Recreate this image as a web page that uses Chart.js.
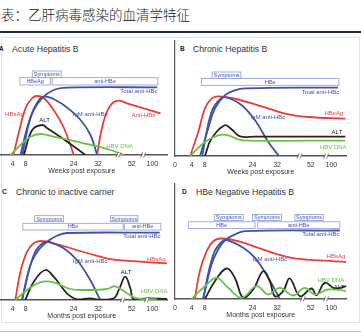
<!DOCTYPE html>
<html>
<head>
<meta charset="utf-8">
<script src="https://cdn.jsdelivr.net/npm/chart.js@4.4.1/dist/chart.umd.min.js"></script>
<style>
  body { margin: 0; width: 361px; height: 332px; position: relative; overflow: hidden; background: #fff;
         font-family: "Liberation Sans", Arial, sans-serif; }
  canvas { position: absolute; }
  .rule  { position: absolute; left: 0; width: 361px; }
  .frame { position: absolute; left: 1px; top: 37px; width: 357px; height: 284px; border: 1px solid #e2e2e2; }
  .lt    { position: absolute; font-size: 6.5px; font-weight: bold; color: #222; line-height: 1; }
  .cap   { position: absolute; font-size: 8.7px; color: #333; white-space: nowrap; line-height: 1; }
  .head  { position: absolute; left: 1px; top: 8px; font-family: "Noto Sans CJK SC", sans-serif; font-weight: 300;
           font-size: 13.5px; color: #222; line-height: 1; white-space: nowrap; }
</style>
</head>
<body>
<div class="head">表：乙肝病毒感染的血清学特征</div>
<div class="rule" style="top:31px;height:1.5px;background:#1c2a3a"></div>
<div class="frame"></div>
<div class="rule" style="top:331px;height:1px;background:#bdbdbd"></div>

<span class="lt" style="left:-1px;top:46px">A</span><span class="cap" style="left:12px;top:45px">Acute Hepatitis B</span>
<span class="lt" style="left:180px;top:46px">B</span><span class="cap" style="left:193px;top:45px">Chronic Hepatitis B</span>
<span class="lt" style="left:2px;top:189px">C</span><span class="cap" style="left:16px;top:188px">Chronic to inactive carrier</span>
<span class="lt" style="left:182px;top:189px">D</span><span class="cap" style="left:196px;top:188px">HBe Negative Hepatitis B</span>

<canvas id="cA" width="196" height="142" style="left:-16px;top:35px"></canvas>
<canvas id="cB" width="196" height="142" style="left:163px;top:36px"></canvas>
<canvas id="cC" width="196" height="142" style="left:-16px;top:180px"></canvas>
<canvas id="cD" width="196" height="142" style="left:163px;top:179px"></canvas>

<script>
// x positions are on a broken time axis: 0..32 roughly linear, then 52 and 100 squeezed in
const tickPos    = [0, 5.5, 9.8, 25.7, 33.8, 45, 51.8];
const tickLabels = ['0', '4', '8', '24', '32', '52', '100'];

// A - acute hepatitis B  ([x, level])
const acuteHBsAg   = [[5.8,0],[7.6,23],[9.8,47],[12,57],[13.6,59],[15.8,57],[19.1,45],[22.5,27],[25.8,0]];
const acuteTotal   = [[8.1,0],[10.3,27],[12.5,45],[15.3,57],[19.1,65],[23.6,67.3],[53.4,67.7]];
const acuteIgM     = [[8.7,0],[11.4,37],[14.2,55],[16.4,58.3],[19.7,55],[23.6,47.3],[28,35],[31.3,20],[33.5,0]];
const acuteALT     = [[9.2,0],[12,25],[15.3,30],[17,26.7],[23.6,13.3],[29.6,0]];
const acuteDNA     = [[4.8,0],[8.1,10],[11.4,18.3],[14.7,21],[19.1,18.3],[29.1,11.7],[37.9,5],[42.3,0]];
const acuteAntiHBs = [[33.5,0],[34.6,20],[36.3,40],[38.5,51.7],[40.7,54.3],[43.4,51.7],[54.5,41.7]];

// B - chronic hepatitis B
const chronicHBsAg = [[5,0],[7.7,24],[9.9,47.4],[12.1,57.4],[14.3,59.7],[18.7,58],[27.6,50.7],[36.4,42.4],[44.1,39],[56.4,37.4]];
const chronicTotal = [[8.3,0],[11,27.4],[13.2,47.4],[16.5,60.7],[19.8,65.7],[23.1,67.7],[54,68.4]];
const chronicIgM   = [[9,0],[12.1,44],[15.4,58],[17.6,58],[22.1,50.7],[26.5,35.7],[30.9,14],[34.4,0]];
const chronicALT   = [[9.9,0],[12.1,17.4],[16.5,30.7],[18.7,26.7],[21.5,19.7],[26.5,19.4],[56.4,19.4]];
const chronicDNA   = [[5,0],[9.9,14],[14.3,20.7],[17.6,20.7],[20.9,16.7],[24.2,15.4],[56.4,15.4]];

// C - chronic to inactive carrier
const carrierHBsAg = [[6.4,0],[8.1,28.3],[10.3,48.3],[12.5,56.7],[14.7,59],[19.1,56.7],[27.9,49],[34.5,43.3],[38.9,40.3],[47.8,38.3],[56.6,36.7]];
const carrierTotal = [[8.6,0],[11.4,35],[14.1,50],[16.9,58.3],[20.2,64.3],[23.5,67],[54.2,67.3]];
const carrierIgM   = [[8.6,0],[12.5,45],[15.8,57.7],[18,57.7],[22.4,51.7],[26.8,40],[31.2,20],[34.5,0]];
const carrierALT   = [[9.7,0],[12.5,18.3],[16.3,30],[19.1,23.3],[23.5,6.7],[26.8,0.7],[31.2,1.7],[34.5,0.3],[39,1.7],[40.9,11.7],[42.8,23.3],[44.5,11.7],[45.6,0.7],[50,1.7],[56.6,1]];
const carrierDNA   = [[6.4,0],[10.3,10],[14.7,17.7],[19.1,17.7],[24.6,11],[29,10],[36.8,11],[39.5,13.7],[43.4,6.7],[46.7,1.7],[53.3,0.7]];

// D - HBe negative hepatitis B
const hbeNegHBsAg  = [[6.6,0],[8.2,27.8],[10.5,47.8],[12.7,57.8],[15.4,60.5],[20.9,57.8],[27.6,51.2],[34.2,44.5],[38.6,41.2],[46.3,38.8],[56.8,37.2]];
const hbeNegTotal  = [[9.3,0],[12.1,34.5],[14.3,49.5],[16.5,58.5],[19.8,64.5],[23.1,67.8],[54.6,68.5]];
const hbeNegIgM    = [[9.3,0],[12.7,44.5],[16,58.5],[18.2,57.8],[22.6,51.2],[26.5,41.2],[30.9,21.2],[34.7,0]];
const hbeNegALT    = [[9.9,0],[13.2,17.8],[17.1,30.5],[19.8,21.2],[22.6,1.2],[25.9,9.5],[29.2,27.8],[31.4,17.8],[33.1,2.8],[35.8,7.8],[38,20.5],[41.4,2.8],[45.2,10.5],[46.9,3.8],[49.6,16.2],[52.9,10.5],[56.8,12.8]];
const hbeNegDNA    = [[5.5,0],[9.9,12.8],[13.8,21.2],[17.6,11.2],[22.1,1.2],[27,12.8],[30.9,4.5],[34.7,11.2],[39.1,3.5],[43,11.2],[46.3,4.5],[50.7,9.5],[56.8,7.8]];

const FONT  = '"Liberation Sans", Arial, sans-serif';
const RED   = '#ea3d3a';
const BLUE  = '#4152a6';
const BLACK = '#242424';
const GREEN = '#68c24b';
const axisClr = '#555';

// annotations: [text, x, level, colour] and boxes [text, from, to, top, bottom]
const acuteLabels = [['HBsAg',6.1,41,RED],['ALT',16.1,35,BLACK],['IgM anti-HBc',31.2,41,BLUE],['Anti-HBs',48.8,40,RED],['Total anti-HBc',47.3,63.3,BLUE],['HBV DNA',40.9,9,GREEN]];
const acuteBoxes  = [['Symptoms',12,21.6,84,77.3],['HBeAg',7.9,18,77.3,70],['anti-HBe',18.6,53.6,77.3,70]];
const chronicLabels = [['Total anti-HBc',48.2,63.4,BLUE],['IgM anti-HBc',30.8,39,BLUE],['HBsAg',52.6,42.4,RED],['ALT',53.6,24,BLACK],['HBV DNA',52.4,8.4,GREEN]];
const chronicBoxes  = [['Symptoms',12.3,21.8,84,77.4],['HBe',8.8,54.3,77.4,70.7]];
const carrierLabels = [['Total anti-HBc',48.3,64,BLUE],['IgM anti-HBc',31.2,38.3,BLUE],['HBsAg',53.1,41,RED],['ALT',43.1,27.7,BLACK],['HBV DNA',52.4,8.3,GREEN]];
const carrierBoxes  = [['Symptoms',12.8,22.4,84.3,78.3],['Symptoms',37.9,47,84.3,78.3],['HBe',8.9,42.1,76.7,70],['anti-HBe',42.5,54.6,76.7,70]];
const hbeNegLabels = [['Total anti-HBc',48.3,64.5,BLUE],['IgM anti-HBc',31.4,39.5,BLUE],['HBsAg',53.3,42.8,RED],['HBV DNA',51.6,18.8,GREEN],['ALT',54.3,11.2,BLACK]];
const hbeNegBoxes  = [['Symptoms',13,22.6,84.5,78.5],['Symptoms',25.7,35.3,84.5,78.5],['Symptoms',39.7,49.1,84.5,78.5],['HBe',4.4,26.5,77.2,70.5],['anti-HBe',27.4,54.6,77.2,70.5]];

function annotPlugin(labels, boxes, breaks) {
  return {
    id: 'annot',
    afterDraw(chart) {
      const { ctx } = chart;
      const x = chart.scales.x, y = chart.scales.y;
      const base = y.getPixelForValue(0);
      ctx.save();
      // axis breaks
      breaks.forEach(u => {
        const px = x.getPixelForValue(u);
        ctx.fillStyle = '#fff';
        ctx.fillRect(px - 1.5, base - 2, 3, 4);
        ctx.strokeStyle = axisClr;
        ctx.lineWidth = 0.8;
        ctx.beginPath();
        ctx.moveTo(px - 3, base + 2.5); ctx.lineTo(px - 1, base - 2.5);
        ctx.moveTo(px, base + 2.5);     ctx.lineTo(px + 2, base - 2.5);
        ctx.stroke();
      });
      ctx.textAlign = 'center';
      ctx.textBaseline = 'middle';
      boxes.forEach(([t, a, b, top, bot]) => {
        const x0 = x.getPixelForValue(a), x1 = x.getPixelForValue(b);
        const y0 = y.getPixelForValue(top), y1 = y.getPixelForValue(bot);
        ctx.fillStyle = '#fff';
        ctx.fillRect(x0, y0, x1 - x0, y1 - y0);
        ctx.strokeStyle = '#9099cc';
        ctx.lineWidth = 0.8;
        ctx.strokeRect(x0, y0, x1 - x0, y1 - y0);
        ctx.fillStyle = BLUE;
        ctx.font = '5.5px ' + FONT;
        ctx.fillText(t, (x0 + x1) / 2, (y0 + y1) / 2 + 0.3);
      });
      labels.forEach(([t, u, v, c]) => {
        ctx.fillStyle = c;
        ctx.font = '6px ' + FONT;
        ctx.fillText(t, x.getPixelForValue(u), y.getPixelForValue(v));
      });
      ctx.restore();
    },
  };
}

function makePanel(id, series, labels, boxes, breaks, xTitle, showY) {
  new Chart(document.getElementById(id), {
    type: 'line',
    data: {
      datasets: series.map(([pts, clr]) => ({
        data: pts.map(p => ({ x: p[0], y: p[1] })),
        borderColor: clr,
        borderWidth: 1.8,
        pointRadius: 0,
        tension: 0.4,
        fill: false,
      })),
    },
    options: {
      responsive: false,
      animation: false,
      events: [],
      layout: { padding: { left: 12, right: 12.5, top: 5, bottom: 2 } },
      plugins: { legend: { display: false }, tooltip: { enabled: false } },
      scales: {
        x: {
          type: 'linear', min: 0, max: 56.8,
          afterBuildTicks: s => { s.ticks = tickPos.map(v => ({ value: v })); },
          afterFit: s => { s.height = 20; },
          ticks: {
            autoSkip: false, maxRotation: 0, padding: 4.5, color: '#333',
            font: { family: FONT, size: 7 },
            callback: (v, i) => tickLabels[i],
          },
          grid: { display: false, drawTicks: false },
          border: { color: axisClr, width: 1.5 },
          title: { display: true, text: xTitle, color: '#333', font: { family: FONT, size: 7 }, padding: 0 },
        },
        y: {
          min: 0, max: 115, display: showY,
          afterFit: s => { s.width = 0; },
          ticks: { display: false },
          grid: { display: false, drawTicks: false },
          border: { color: axisClr, width: 1.2 },
        },
      },
    },
    plugins: [annotPlugin(labels, boxes, breaks)],
  });
}

makePanel('cA', [[acuteDNA, GREEN], [acuteALT, BLACK], [acuteIgM, BLUE], [acuteTotal, BLUE], [acuteHBsAg, RED], [acuteAntiHBs, RED]],
  acuteLabels, acuteBoxes, [40.7, 48.9], 'Weeks post exposure', false);
makePanel('cB', [[chronicDNA, GREEN], [chronicALT, BLACK], [chronicIgM, BLUE], [chronicTotal, BLUE], [chronicHBsAg, RED]],
  chronicLabels, chronicBoxes, [41.4, 50.2], 'Weeks post exposure', true);
makePanel('cC', [[carrierDNA, GREEN], [carrierALT, BLACK], [carrierIgM, BLUE], [carrierTotal, BLUE], [carrierHBsAg, RED]],
  carrierLabels, carrierBoxes, [42.1, 50.1], 'Months post exposure', false);
makePanel('cD', [[hbeNegDNA, GREEN], [hbeNegALT, BLACK], [hbeNegIgM, BLUE], [hbeNegTotal, BLUE], [hbeNegHBsAg, RED]],
  hbeNegLabels, hbeNegBoxes, [42.5, 50.2], 'Months post exposure', true);
</script>
</body>
</html>
